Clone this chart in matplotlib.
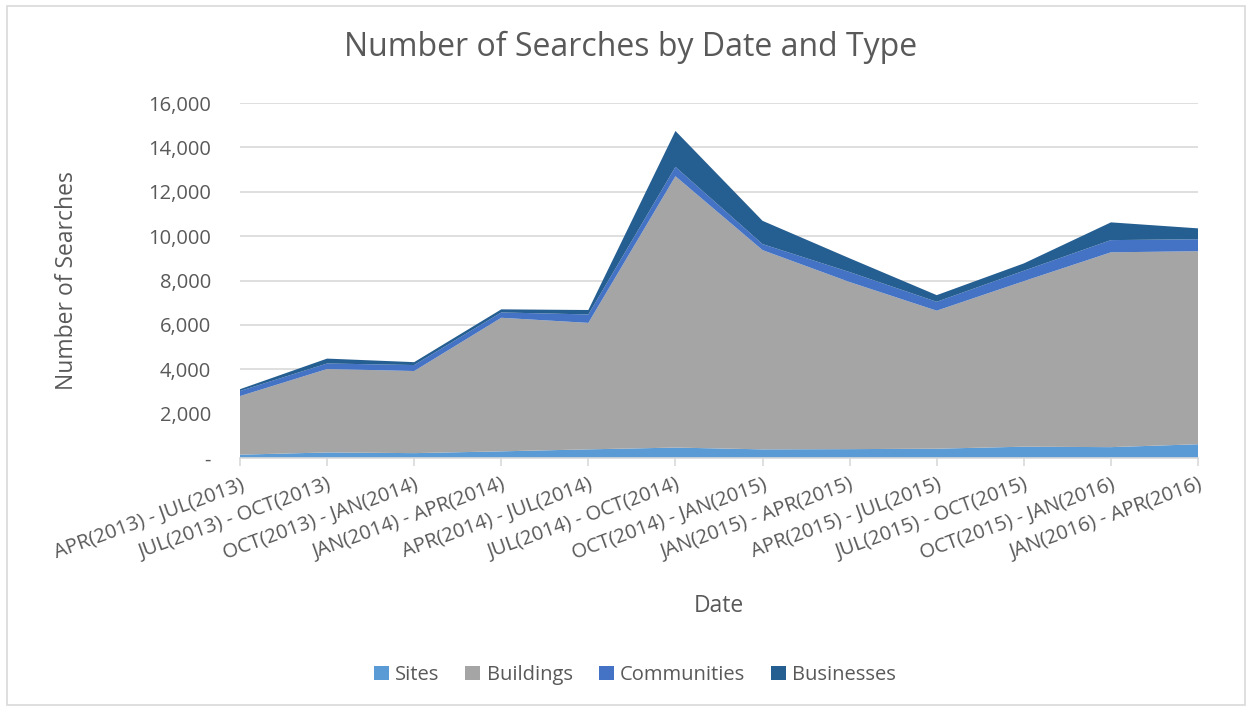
import matplotlib.pyplot as plt
import numpy as np
from matplotlib.patches import Rectangle

plt.rcParams["font.family"] = ["Open Sans", "DejaVu Sans"]

# Periods (x categories)
periods = [
    "APR(2013) - JUL(2013)",
    "JUL(2013) - OCT(2013)",
    "OCT(2013) - JAN(2014)",
    "JAN(2014) - APR(2014)",
    "APR(2014) - JUL(2014)",
    "JUL(2014) - OCT(2014)",
    "OCT(2014) - JAN(2015)",
    "JAN(2015) - APR(2015)",
    "APR(2015) - JUL(2015)",
    "JUL(2015) - OCT(2015)",
    "OCT(2015) - JAN(2016)",
    "JAN(2016) - APR(2016)",
]

# Searches per type
sites = [150, 250, 220, 300, 390, 470, 390, 400, 420, 510, 490, 620]
buildings = [2640, 3760, 3700, 6020, 5700, 12230, 8980, 7530, 6220, 7460, 8780, 8700]
communities = [230, 250, 270, 240, 380, 420, 270, 450, 400, 470, 550, 540]
businesses = [80, 220, 130, 140, 200, 1620, 1050, 620, 300, 330, 800, 490]

series_names = ["Sites", "Buildings", "Communities", "Businesses"]
colors = ["#5b9bd5", "#a5a5a5", "#4472c4", "#255e91"]
text_color = "#595959"
grid_color = "#d9d9d9"

fig = plt.figure(figsize=(12.53, 7.11), dpi=100)
ax = fig.add_axes([240 / 1253, 1 - 458 / 711, (1198 - 240) / 1253, (458 - 103) / 711])

x = np.arange(len(periods))
ax.stackplot(x, sites, buildings, communities, businesses, colors=colors, labels=series_names, zorder=2)

ax.set_xlim(0, len(periods) - 1)
ax.set_ylim(0, 16000)
ax.set_yticks(np.arange(0, 16001, 2000))
ax.set_yticklabels(["-"] + [f"{v:,}" for v in range(2000, 16001, 2000)])
ax.yaxis.grid(True, color=grid_color, linewidth=1.2, zorder=0)
ax.set_axisbelow(True)

for side in ["top", "right", "left"]:
    ax.spines[side].set_visible(False)
ax.spines["bottom"].set_color(grid_color)
ax.spines["bottom"].set_linewidth(1.2)
ax.spines["bottom"].set_zorder(3)

ax.set_xticks(x)
ax.set_xticklabels(periods, rotation=20, ha="right", rotation_mode="anchor")
ax.tick_params(axis="x", colors=grid_color, length=6, width=1.2, labelcolor=text_color, labelsize=14.5, pad=6)
ax.tick_params(axis="y", length=0, labelcolor=text_color, labelsize=14.5, pad=21)

ax.set_xlabel("Date", color=text_color, fontsize=16.5, labelpad=22)
ax.set_ylabel("Number of Searches", color=text_color, fontsize=16.5, labelpad=50)

fig.text(631 / 1253, 1 - 47 / 711, "Number of Searches by Date and Type", ha="center", va="center",
         color=text_color, fontsize=23)

leg = fig.legend(loc="center", bbox_to_anchor=(635 / 1253, 1 - 675 / 711), ncol=4, frameon=False,
                 fontsize=14.5, handlelength=0.75, handleheight=0.75, handletextpad=0.3, columnspacing=1.3)
for t in leg.get_texts():
    t.set_color(text_color)

fig.patches.append(Rectangle((7 / 1253, 6 / 711), 1 - 15 / 1253, 1 - 12 / 711, transform=fig.transFigure,
                             fill=False, edgecolor=grid_color, linewidth=1.2))

fig.savefig("out.png", dpi=100)
